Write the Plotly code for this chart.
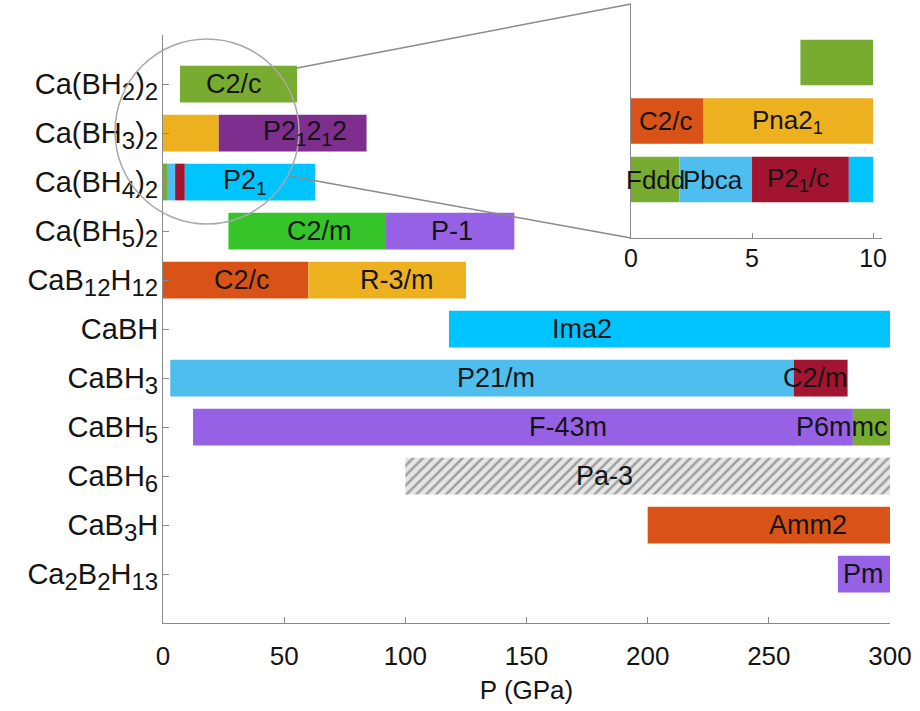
import plotly.graph_objects as go

# ---------------- data ----------------
compound_base = [
    ("Ca(BH", "2", ")", "2"),
    ("Ca(BH", "3", ")", "2"),
    ("Ca(BH", "4", ")", "2"),
    ("Ca(BH", "5", ")", "2"),
    ("CaB", "12", "H", "12"),
    ("CaBH", "", "", ""),
    ("CaBH", "3", "", ""),
    ("CaBH", "5", "", ""),
    ("CaBH", "6", "", ""),
    ("CaB", "3", "H", ""),
]
compound_last = "Ca<sub>2</sub>B<sub>2</sub>H<sub>13</sub>"

# main panel segments (compound index, start GPa, end GPa, colour key)
seg_cat = [0, 1, 1, 2, 2, 2, 2, 3, 3, 4, 4, 5, 6, 6, 7, 7, 8, 9, 10]
seg_start = [7, 0, 23, 0, 2, 5, 9, 27, 92, 0, 60, 118, 3, 260.3, 12.4, 284.7, 100, 200, 278.5]
seg_end = [55.3, 23, 84, 2, 5, 9, 62.8, 92, 145, 60, 125, 300, 260.3, 282.5, 284.7, 300, 300, 300, 300]
seg_key = ["green", "yellow", "purple", "green", "lblue", "dred", "cyan", "bgreen", "lilac",
           "orange", "yellow", "cyan", "lblue", "dred", "lilac", "green", "hatch", "orange", "lilac"]

# main panel phase labels
lab_cat = [0, 1, 2, 3, 3, 4, 4, 5, 6, 6, 7, 7, 8, 9, 10]
lab_x = [29.5, 58.7, 33.9, 64.5, 119.2, 32.5, 96.5, 172.8, 137.5, 269.3, 167, 280, 182, 266, 289]
lab_text = ["C2/c", "P2<sub>1</sub>2<sub>1</sub>2", "P2<sub>1</sub>", "C2/m", "P-1", "C2/c", "R-3/m",
            "Ima2", "P21/m", "C2/m", "F-43m", "P6mmc", "Pa-3", "Amm2", "Pm"]

# inset (0-10 GPa) segments for the first three compounds
ins_cat = [0, 1, 1, 2, 2, 2, 2]
ins_start = [7, 0, 3, 0, 2, 5, 9]
ins_end = [10, 3, 10, 2, 5, 9, 10]
ins_key = ["green", "orange", "yellow", "green", "lblue", "dred", "cyan"]
ins_lab_cat = [1, 1, 2, 2, 2]
ins_lab_x = [1.43, 6.47, 1.0, 3.37, 6.9]
ins_lab_text = ["C2/c", "Pna2<sub>1</sub>", "Fddd", "Pbca", "P2<sub>1</sub>/c"]

x_ticks = [0, 50, 100, 150, 200, 250, 300]
ins_ticks = [0, 5, 10]

# ---------------- style ----------------
palette = {
    "green": "#77AC30", "yellow": "#EDB120", "orange": "#D95319", "purple": "#7E2F8E",
    "lblue": "#4DBEEE", "dred": "#A2142F", "cyan": "#00C4FF", "bgreen": "#35C52A",
    "lilac": "#9661E4", "hatch": "#E4E4E4",
}
FONT = "Liberation Sans, Arial, Helvetica, sans-serif"
TXT = "#141414"
AX = "#8a8a8a"
W, H = 920, 711
ML, MR, MT, MB = 163, 30, 4, 88
SUB = 24


def px(xp):
    return (xp - ML) / (W - ML - MR)


def py(yp):
    return (H - MB - yp) / (H - MT - MB)


def sub(s):
    return f"<sub><span style='font-size:{SUB}px'>{s}</span></sub>" if s else ""


def label(parts):
    a, b, c, d = parts
    return a + sub(b) + c + sub(d)


compounds = [label(p) for p in compound_base] + [
    "Ca" + sub("2") + "B" + sub("2") + "H" + sub("13")]

fig = go.Figure()

for c, s, e, k in zip(seg_cat, seg_start, seg_end, seg_key):
    marker = dict(color=palette[k], line=dict(width=0))
    if k == "hatch":
        marker["pattern"] = dict(shape="/", fgcolor="#9c9c9c", bgcolor="#E6E6E6",
                                 size=7, solidity=0.35, fillmode="replace")
    fig.add_trace(go.Bar(x=[e - s], y=[c + 1], base=[s], orientation="h", width=0.75,
                         marker=marker, showlegend=False, hoverinfo="skip",
                         xaxis="x", yaxis="y"))

for c, s, e, k in zip(ins_cat, ins_start, ins_end, ins_key):
    fig.add_trace(go.Bar(x=[e - s], y=[c + 1], base=[s], orientation="h", width=0.78,
                         marker=dict(color=palette[k], line=dict(width=0)),
                         showlegend=False, hoverinfo="skip", xaxis="x2", yaxis="y2"))

annotations = []
for c, x, t in zip(lab_cat, lab_x, lab_text):
    annotations.append(dict(x=x, y=c + 1, xref="x", yref="y", text=t, showarrow=False,
                            font=dict(family=FONT, size=27, color=TXT)))
for c, x, t in zip(ins_lab_cat, ins_lab_x, ins_lab_text):
    annotations.append(dict(x=x, y=c + 1, xref="x2", yref="y2", text=t, showarrow=False,
                            font=dict(family=FONT, size=26, color=TXT)))

shapes = [
    # magnifier circle
    dict(type="circle", xref="paper", yref="paper", x0=px(115), x1=px(299), y0=py(224), y1=py(39),
         line=dict(color="#a8a8a8", width=1.5)),
    # connector lines to inset
    dict(type="line", xref="paper", yref="paper", x0=px(297), y0=py(68), x1=px(631), y1=py(4),
         line=dict(color="#8a8a8a", width=1.5)),
    dict(type="line", xref="paper", yref="paper", x0=px(289), y0=py(176), x1=px(631), y1=py(238),
         line=dict(color="#8a8a8a", width=1.5)),
]

fig.update_layout(
    width=W, height=H,
    margin=dict(l=ML, r=MR, t=MT, b=MB),
    paper_bgcolor="white", plot_bgcolor="rgba(0,0,0,0)",
    barmode="overlay",
    font=dict(family=FONT, size=24, color=TXT),
    annotations=annotations,
    shapes=shapes,
    xaxis=dict(domain=[0, 1], range=[0, 300], tickvals=x_ticks, ticks="inside", ticklen=6,
               tickcolor=AX, showline=True, linecolor=AX, linewidth=1, showgrid=False,
               zeroline=False, tickfont=dict(size=26, color=TXT), ticklabelstandoff=10,
               title=dict(text="P (GPa)", font=dict(size=26, color=TXT), standoff=10),
               anchor="y"),
    yaxis=dict(domain=[0, py(35)], range=[12, 0], tickvals=list(range(0, 12)),
               ticktext=[""] + compounds, ticks="inside", ticklen=6, tickcolor=AX,
               showline=True, linecolor=AX, linewidth=1, showgrid=False, zeroline=False,
               tickfont=dict(size=29, color=TXT), ticklabelstandoff=-2, anchor="x"),
    xaxis2=dict(domain=[px(631), px(882)], range=[0, 10.37], tickvals=ins_ticks,
                ticks="inside", ticklen=5, tickcolor=AX, showline=True, linecolor=AX,
                linewidth=1, showgrid=False, zeroline=False,
                tickfont=dict(size=25, color=TXT), ticklabelstandoff=-2, anchor="y2"),
    yaxis2=dict(domain=[py(238), 1], range=[4, 0], showticklabels=False, ticks="",
                showline=True, linecolor=AX, linewidth=1, showgrid=False, zeroline=False,
                anchor="x2"),
)

fig.write_html("out.html")
